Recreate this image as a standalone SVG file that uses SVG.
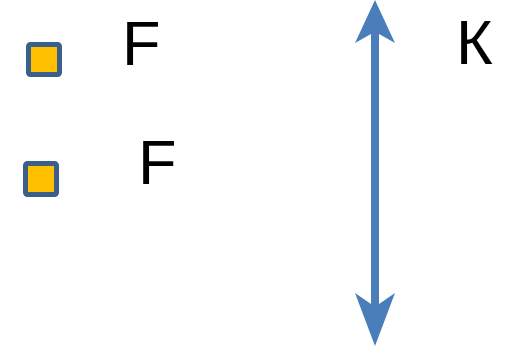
<svg xmlns="http://www.w3.org/2000/svg" width="508" height="352" viewBox="0 0 508 352">
<style>
.box{fill:#FFC000;stroke:#3A5F8B;stroke-width:5}
.lbl{font-family:"Liberation Sans",Arial,sans-serif;font-size:63px;fill:#000}
.arr{fill:#4A7EBB}
</style>
<rect width="508" height="352" fill="#fff"/>
<g id="node-bullet1"><rect class="box" x="28.5" y="44.5" width="31" height="30" rx="2"/></g>
<g id="node-bullet2"><rect class="box" x="25.5" y="163.5" width="31" height="31" rx="2"/></g>
<g id="node-f1"><text class="lbl" x="122" y="65">F</text></g>
<g id="node-f2"><text class="lbl" x="138" y="184">F</text></g>
<g id="node-k"><text class="lbl" x="456" y="64">К</text></g>
<g id="connectors">
<polygon class="arr" points="375,0 395,43 379,34 379,304 395,293 375,346 355,293 371,304 371,34 355,43"/>
</g>
</svg>
